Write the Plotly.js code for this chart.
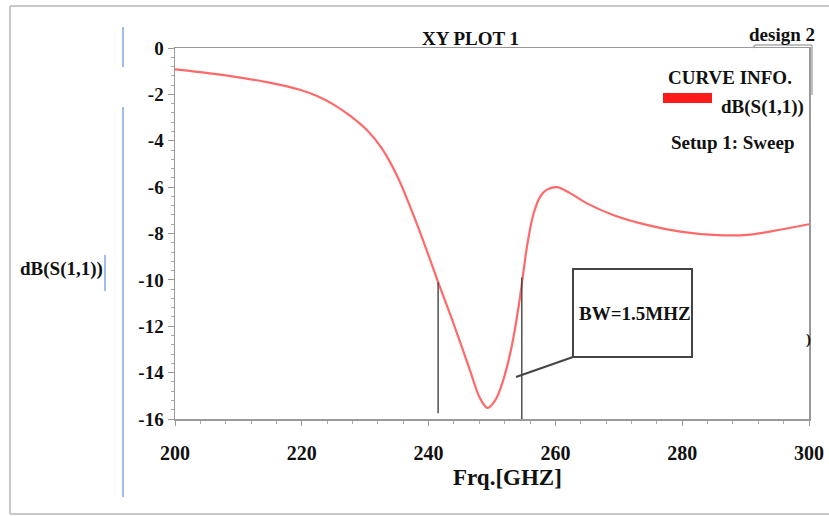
<!DOCTYPE html>
<html>
<head>
<meta charset="utf-8">
<script src="https://cdn.plot.ly/plotly-3.0.1.min.js"></script>
<style>html,body{margin:0;padding:0;background:#fff;}#chart{width:829px;height:516px;}</style>
</head>
<body>
<div id="chart"></div>
<script>
// Frequency sweep [GHz] and return loss dB(S(1,1))
const freq = [200, 204, 209, 214.5, 219.7, 222.4, 224.9, 227.6, 230.3, 232.6, 235.0, 237.6, 240.2, 241.5, 243.9, 246.5, 248.1, 249.3, 250.5, 251.8, 253.1, 254.2, 255.0, 255.5, 256.5, 257.6, 258.6, 260.2, 262.3, 264.9, 269.1, 274.4, 279.7, 284.9, 290.2, 295.4, 300];
const s11 = [-0.92, -1.04, -1.22, -1.47, -1.8, -2.07, -2.42, -2.92, -3.55, -4.32, -5.5, -7.2, -9.1, -10.1, -11.86, -13.88, -15.1, -15.52, -15.2, -14.3, -12.88, -11.15, -9.57, -8.6, -7.2, -6.41, -6.12, -6.0, -6.26, -6.69, -7.2, -7.63, -7.92, -8.06, -8.06, -7.84, -7.6];
// Bandwidth marker lines (freq, top value, bottom value)
const bwFreq = [241.5, 254.7];
const bwTop = [-10.1, -9.9];
const bwBottom = [-15.75, -16];
const xTicks = [200, 220, 240, 260, 280, 300];
const yTicks = [0, -2, -4, -6, -8, -10, -12, -14, -16];

// pixel -> paper helpers (plot area: x 175..809, y 48..419)
const L = 175, R = 809, T = 48, B = 419;
const px = x => (x - L) / (R - L);
const py = y => (B - y) / (B - T);

const FONT = "Liberation Serif, Times New Roman, serif";
const txt = (text, x, y, size, xanchor, color) => ({
  text: text, xref: 'paper', yref: 'paper', x: px(x), y: py(y),
  xanchor: xanchor || 'center', yanchor: 'middle', showarrow: false,
  font: {family: FONT, size: size, color: color || '#111', weight: 'bold'}
});

const trace = {
  x: freq, y: s11, type: 'scatter', mode: 'lines',
  line: {color: 'rgb(255,105,105)', width: 2.2, shape: 'spline', smoothing: 1.0},
  hoverinfo: 'skip'
};

const shapes = [];
bwFreq.forEach((f, i) => {
  shapes.push({type: 'line', xref: 'x', yref: 'y', x0: f, x1: f, y0: bwTop[i], y1: bwBottom[i],
    line: {color: '#444', width: 1.4}});
});
const pline = (x0, y0, x1, y1, color, width) => ({type: 'line', xref: 'paper', yref: 'paper',
  x0: px(x0), y0: py(y0), x1: px(x1), y1: py(y1), line: {color: color, width: width}});
// callout box
shapes.push({type: 'rect', xref: 'paper', yref: 'paper', x0: px(573), x1: px(692), y0: py(269), y1: py(357),
  line: {color: '#444', width: 2}, fillcolor: 'rgba(0,0,0,0)'});
shapes.push(pline(573, 357, 516, 377, '#444', 2));
// legend red swatch
shapes.push({type: 'rect', xref: 'paper', yref: 'paper', x0: px(663), x1: px(712), y0: py(93), y1: py(103),
  line: {width: 0}, fillcolor: '#ff1a1a'});
// legend box edge
shapes.push(pline(753, 48, 755, 45, '#aaa', 1.5));
shapes.push(pline(755, 45, 812, 45, '#aaa', 1.5));
shapes.push(pline(812, 45, 812, 95, '#aaa', 1.5));
// outer frame
shapes.push(pline(10, 6, 829, 6, '#c8c8c8', 2));
shapes.push(pline(10, 6, 10, 514, '#c8c8c8', 2));
shapes.push(pline(10, 514, 829, 514, '#c8c8c8', 2));
// blue guide lines
shapes.push(pline(123, 27, 123, 67, '#7fa8e6', 1.5));
shapes.push(pline(123, 107, 123, 497, '#7fa8e6', 1.5));
shapes.push(pline(105, 255, 105, 291, '#7fa8e6', 1.5));

const annotations = [
  txt('XY PLOT 1', 470, 39, 19),
  txt('design 2', 782, 34, 19),
  txt('CURVE INFO.', 666, 77, 19, 'left'),
  txt('dB(S(1,1))', 806, 107, 19, 'right'),
  txt('Setup 1: Sweep', 669, 142, 19, 'left'),
  txt('BW=1.5MHZ', 635, 313, 19),
  txt(')', 808, 339, 15),
  txt('Frq.[GHZ]', 507, 477, 23),
  txt('dB(S(1,1))', 105, 269, 19, 'right')
];

const layout = {
  width: 829, height: 516,
  margin: {l: L, r: 829 - R, t: T, b: 516 - B, pad: 0},
  paper_bgcolor: '#fff', plot_bgcolor: '#fff',
  showlegend: false,
  xaxis: {
    range: [200, 300], tickvals: xTicks, ticktext: xTicks.map(String),
    showline: true, linecolor: '#999', linewidth: 1.5, mirror: true,
    ticks: 'outside', ticklen: 5, tickcolor: '#999', tickwidth: 1,
    minor: {dtick: 4, tick0: 200, ticks: 'outside', ticklen: 3, tickcolor: '#aaa', showgrid: false},
    showgrid: false, zeroline: false, ticklabelstandoff: 10,
    tickfont: {family: FONT, size: 20, color: '#111', weight: 'bold'}
  },
  yaxis: {
    range: [-16, 0], tickvals: yTicks, ticktext: yTicks.map(String),
    showline: true, linecolor: '#999', linewidth: 1.5, mirror: true,
    ticks: 'outside', ticklen: 6, tickcolor: '#999', tickwidth: 1,
    minor: {dtick: 0.4, tick0: 0, ticks: 'outside', ticklen: 3, tickcolor: '#aaa', showgrid: false},
    showgrid: false, zeroline: false,
    tickfont: {family: FONT, size: 19, color: '#111', weight: 'bold'}
  },
  shapes: shapes,
  annotations: annotations
};

Plotly.newPlot('chart', [trace], layout, {displayModeBar: false, staticPlot: true});
</script>
</body>
</html>
